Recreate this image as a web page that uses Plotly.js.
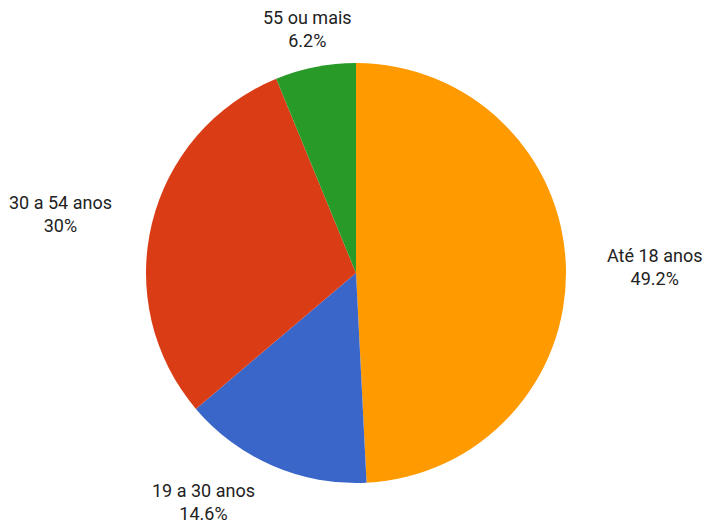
<!DOCTYPE html>
<html>
<head>
<meta charset="utf-8">
<script src="https://cdn.plot.ly/plotly-3.0.1.min.js"></script>
<style>html,body{margin:0;padding:0;background:#fff;}#chart{width:705px;height:525px;}</style>
</head>
<body>
<div id="chart"></div>
<script>
const labels = ["Até 18 anos", "19 a 30 anos", "30 a 54 anos", "55 ou mais"];
const values = [49.2, 14.6, 30.0, 6.2];
const colors = ["#FF9A00", "#3A66C9", "#DA3C16", "#289A28"];

const W = 705, H = 525;
const cx = 356, cy = 273, r = 210, labelR = 249;

const total = values.reduce((a, b) => a + b, 0);
function fmtPct(v) {
  const p = Math.round(v / total * 1000) / 10;
  return (Number.isInteger(p) ? p.toFixed(0) : p.toFixed(1)) + "%";
}

// label annotations placed at each slice's mid-angle (clockwise from top)
const annotations = [];
let cum = 0;
values.forEach((v, i) => {
  const mid = (cum + v / 2) / total * 2 * Math.PI;
  cum += v;
  const s = Math.sin(mid), c = Math.cos(mid);
  const px = cx + labelR * s, py = cy - labelR * c;
  annotations.push({
    xref: "paper", yref: "paper",
    x: px / W, y: 1 - py / H,
    xanchor: s > 0.3 ? "left" : (s < -0.3 ? "right" : "center"),
    yanchor: "middle",
    align: "center",
    showarrow: false,
    text: labels[i] + "<br>" + fmtPct(v),
    font: {family: "Roboto, sans-serif", size: 18, color: "#222222"}
  });
});

const data = [{
  type: "pie",
  labels: labels,
  values: values,
  sort: false,
  direction: "clockwise",
  rotation: 0,
  marker: {colors: colors, line: {width: 0}},
  textinfo: "none",
  automargin: false,
  hoverinfo: "label+percent",
  domain: {x: [(cx - r) / W, (cx + r) / W], y: [1 - (cy + r) / H, 1 - (cy - r) / H]}
}];

const layout = {
  width: W, height: H,
  margin: {l: 0, r: 0, t: 0, b: 0},
  paper_bgcolor: "#ffffff",
  showlegend: false,
  font: {family: "Roboto, sans-serif"},
  annotations: annotations
};

Plotly.newPlot("chart", data, layout, {displayModeBar: false, staticPlot: true});
</script>
</body>
</html>
